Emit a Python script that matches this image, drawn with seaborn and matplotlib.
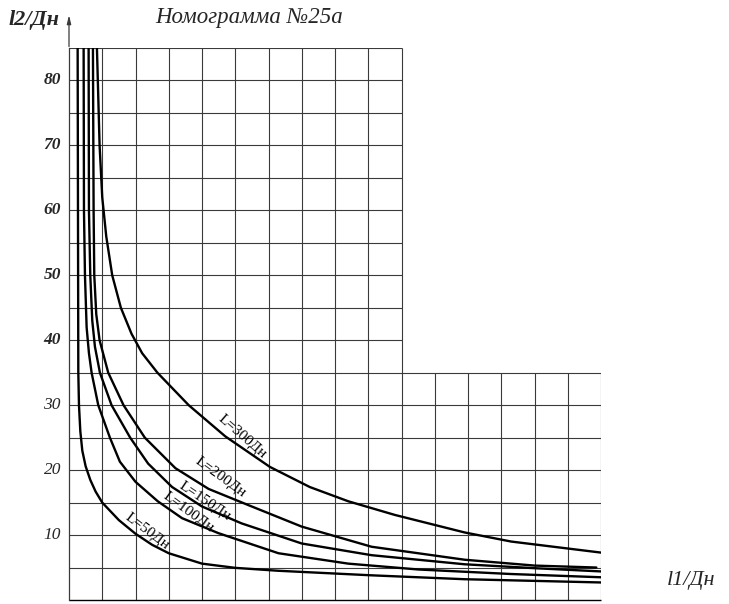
import numpy as np
import pandas as pd
import matplotlib
matplotlib.use("Agg")
import matplotlib.pyplot as plt
import seaborn as sns

sns.set_style("white")
plt.rcParams['font.family'] = ['Liberation Serif', 'DejaVu Serif']

# ---- data ----
L50_x  = [1.3, 1.35, 1.4, 1.5, 1.7, 2.0, 2.5, 3.2, 4.0, 5.0, 7.5, 10.0, 12.5, 15.0, 20.0, 25.0, 31.5, 45.5, 59.5, 80.0]
L50_y  = [85, 60, 35, 30, 26, 23, 20.6, 18.5, 16.7, 15, 12.3, 10.2, 8.5, 7.2, 5.6, 4.95, 4.5, 3.8, 3.2, 2.7]

L100_x = [2.2, 2.25, 2.4, 2.65, 3.0, 3.4, 4.4, 6.15, 7.65, 10.0, 13.35, 17.0, 22.45, 31.5, 42.0, 52.5, 66.5, 80.0]
L100_y = [85, 60, 50, 42, 38, 35, 30, 25, 21.3, 18.2, 15.2, 12.6, 10.3, 7.2, 5.6, 4.7, 4.0, 3.5]

L150_x = [2.95, 3.0, 3.2, 3.5, 3.9, 4.65, 6.4, 9.2, 11.9, 15.5, 20.0, 25.95, 35.0, 45.5, 59.5, 70.0, 80.0]
L150_y = [85, 60, 50, 43, 39, 35, 30, 25, 21, 17.4, 14.4, 11.8, 8.7, 6.9, 5.5, 4.9, 4.4]

L200_x = [3.6, 3.7, 3.8, 4.1, 4.6, 5.9, 8.2, 11.4, 16.0, 21.0, 27.0, 35.0, 45.5, 59.5, 70.0, 79.3]
L200_y = [85, 60, 50, 44, 40, 35, 30, 25, 20.3, 17.1, 14.6, 11.3, 8.2, 6.2, 5.3, 5.0]

L300_x = [4.2, 4.6, 5.0, 5.6, 6.5, 7.8, 9.4, 11.0, 13.3, 18.0, 23.5, 30.2, 36.2, 42.0, 49.0, 59.5, 66.5, 80.0]
L300_y = [85, 70, 62, 56, 50, 45, 41, 38, 35, 30, 25.2, 20.5, 17.4, 15.2, 13.1, 10.4, 9.0, 7.3]

curve_names = ["L=50Дн", "L=100Дн", "L=150Дн", "L=200Дн", "L=300Дн"]
y_tick_values = [10, 20, 30, 40, 50, 60, 70, 80]

# label anchor points and angles
label_x = [11.7, 17.9, 20.4, 22.7, 26.0]
label_y = [10.6, 13.5, 15.2, 18.9, 25.1]
label_rot = [-37, -36, -34, -36, -41]

curves = [(L50_x, L50_y), (L100_x, L100_y), (L150_x, L150_y), (L200_x, L200_y), (L300_x, L300_y)]
frames = []
for name, (xs, ys) in zip(curve_names, curves):
    frames.append(pd.DataFrame({"l1": xs, "l2": ys, "L": name}))
df = pd.concat(frames, ignore_index=True)

# ---- figure ----
W, H = 729, 604
fig = plt.figure(figsize=(W / 100, H / 100), dpi=100)
ax = fig.add_axes([69 / W, 4 / H, (601 - 69) / W, (600 - 48) / H])
ax.set_xlim(0, 80)
ax.set_ylim(0, 85)

gcol = "#3a3a3a"
glw = 0.8
# L-shaped grid
for xv in range(5, 85, 5):
    top = 85 if xv <= 50 else 35
    ax.vlines(xv, 0, top, color=gcol, lw=glw, zorder=1)
for yv in range(5, 90, 5):
    right = 50 if yv > 35 else 80
    ax.hlines(yv, 0, right, color=gcol, lw=glw, zorder=1)

sns.lineplot(data=df, x="l1", y="l2", units="L", estimator=None, sort=False,
             color="black", lw=1.7, legend=False, ax=ax, zorder=3,
             solid_joinstyle="round", solid_capstyle="round")

for name, lx, ly, rot in zip(curve_names, label_x, label_y, label_rot):
    ax.text(lx, ly, name, rotation=rot, rotation_mode="anchor", ha="center", va="center",
            fontsize=11, color="black", zorder=4)

# axes styling
for s in ["top", "right"]:
    ax.spines[s].set_visible(False)
ax.spines["bottom"].set_visible(False)
ax.hlines(0, 0, 80, color="black", lw=1.0, clip_on=False, zorder=2)
ax.spines["left"].set_color(gcol)
ax.spines["left"].set_linewidth(0.9)
ax.annotate("", xy=(0, 90.5), xytext=(0, 84.8), xycoords="data",
            arrowprops=dict(arrowstyle="-|>,head_width=0.12,head_length=0.5", color=gcol, lw=0.9),
            annotation_clip=False)

ax.set_xticks([])
ax.set_yticks(list(range(5, 90, 5)))
ax.set_yticklabels([""] * 17)
ax.tick_params(axis="y", length=3, width=0.8, color=gcol, pad=2)
for v in y_tick_values:
    weight = "bold" if v >= 40 else "normal"
    ax.text(-1.2, v, str(v), ha="right", va="center", fontsize=12.5,
            fontstyle="italic", fontweight=weight, transform=ax.transData, clip_on=False)
ax.set_xlabel("")
ax.set_ylabel("")

fig.text(249 / W, 1 - 18 / H, "Номограмма №25а", ha="center", va="center",
         fontsize=16.5, fontstyle="italic")
fig.text(34 / W, 1 - 20 / H, "l2/Дн", ha="center", va="center",
         fontsize=16, fontstyle="italic", fontweight="bold")
fig.text(691 / W, 1 - 580 / H, "l1/Дн", ha="center", va="center",
         fontsize=16, fontstyle="italic")

fig.savefig("out.png", dpi=100, facecolor="white")
